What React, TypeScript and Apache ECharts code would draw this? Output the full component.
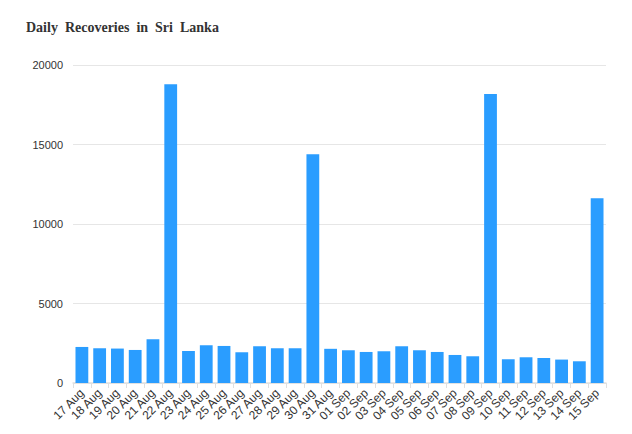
import React, { useEffect, useRef } from "react";
import * as echarts from "echarts";

const categories = [
  "17 Aug", "18 Aug", "19 Aug", "20 Aug", "21 Aug", "22 Aug", "23 Aug", "24 Aug",
  "25 Aug", "26 Aug", "27 Aug", "28 Aug", "29 Aug", "30 Aug", "31 Aug",
  "01 Sep", "02 Sep", "03 Sep", "04 Sep", "05 Sep", "06 Sep", "07 Sep", "08 Sep",
  "09 Sep", "10 Sep", "11 Sep", "12 Sep", "13 Sep", "14 Sep", "15 Sep",
];

const recoveries = [
  2267, 2185, 2166, 2078, 2752, 18790, 2015, 2374, 2330, 1933, 2311, 2185, 2185,
  14383, 2150, 2059, 1952, 1996, 2311, 2059, 1952, 1763, 1681, 18180, 1492, 1618,
  1574, 1473, 1366, 11612,
];

const titleText = "Daily  Recoveries  in  Sri  Lanka";

export default function App() {
  const ref = useRef<HTMLDivElement>(null);
  useEffect(() => {
    if (!ref.current) return;
    const chart = echarts.init(ref.current, undefined, { renderer: "svg" });
    chart.setOption({
      animation: false,
      backgroundColor: "#ffffff",
      title: {
        text: titleText,
        left: 21,
        top: 15,
        textStyle: {
          fontFamily: "Liberation Serif",
          fontWeight: "bold",
          fontSize: 14,
          color: "#333333",
        },
      },
      grid: { left: 73, right: 26, top: 65, bottom: 51 },
      xAxis: {
        type: "category",
        data: categories,
        axisLine: { lineStyle: { color: "#e0e0e0", width: 1.5 } },
        axisTick: { show: true, length: 5, lineStyle: { color: "#e0e0e0" } },
        axisLabel: {
          interval: 0,
          rotate: 45,
          fontSize: 12,
          fontFamily: "Liberation Sans",
          color: "#333333",
          margin: 8,
        },
      },
      yAxis: {
        type: "value",
        min: 0,
        max: 20000,
        interval: 5000,
        axisLine: { show: false },
        axisTick: { show: false },
        axisLabel: {
          fontSize: 11,
          fontFamily: "Liberation Sans",
          color: "#333333",
          margin: 10,
          formatter: (v: number) => String(v),
          verticalAlign: "middle",
          padding: [0, 0, 6, 0],
        },
        splitLine: { lineStyle: { color: "#e6e6e6", width: 1 } },
      },
      series: [
        {
          type: "bar",
          data: recoveries,
          barCategoryGap: "28%",
          itemStyle: { color: "#2a9dff" },
        },
      ],
    });
    return () => chart.dispose();
  }, []);
  return (
    <div
      ref={ref}
      style={{ position: "fixed", left: 0, top: 0, width: 632, height: 434 }}
    />
  );
}
